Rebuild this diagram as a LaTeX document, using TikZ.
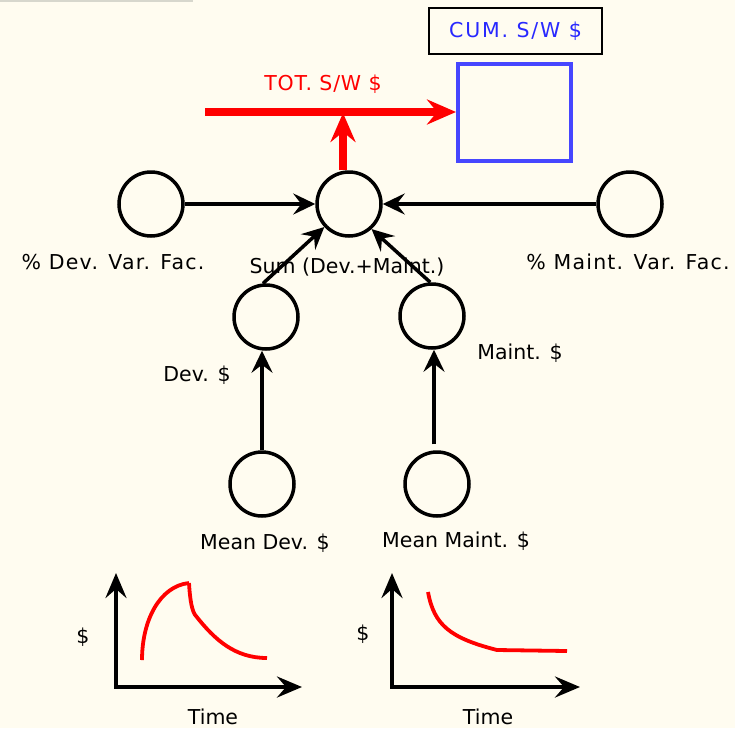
\documentclass[tikz,border=0pt]{standalone}
\usepackage{fontspec}
\setmainfont{DejaVu Sans}
\usetikzlibrary{arrows.meta}
\definecolor{bg}{RGB}{255,252,240}
\definecolor{myblue}{RGB}{70,70,255}
\definecolor{txtblue}{RGB}{40,40,255}
\definecolor{myred}{RGB}{255,0,0}
\definecolor{strip}{RGB}{215,215,205}
\begin{document}
\begin{tikzpicture}[x=1pt,y=-1pt,
  var/.style={circle,draw=black,line width=3.5pt,minimum size=64pt,inner sep=0pt},
  lbl/.style={font=\fontsize{20.5}{24}\selectfont,inner sep=0pt,anchor=base},
  link/.style={line width=3.5pt,-{Stealth[length=22pt,width=21pt,inset=8pt]}},
  flow/.style={draw=myred,line width=8pt,-{Stealth[length=29pt,width=25pt,inset=10pt]}},
  axis/.style={line width=4.5pt,line join=miter,{Stealth[length=25pt,width=21pt,inset=9pt]}-{Stealth[length=25pt,width=21pt,inset=9pt]}},
  curve/.style={draw=myred,line width=3.8pt,line join=round}
]
\fill[bg] (0,0) rectangle (735,728);
\useasboundingbox (0,0) rectangle (735,728);
\fill[strip] (0,0) rectangle (193,2);

% stock and its title box
\node[draw=black,line width=2.2pt,minimum width=173pt,minimum height=46pt,inner sep=0pt,
      text=txtblue,font=\fontsize{20.5}{24}\selectfont\addfontfeature{LetterSpace=9}] (cumlbl) at (515.5,31) {CUM. S/W \$};
\node[draw=myblue,line width=4pt,minimum width=113pt,minimum height=97pt,inner sep=0pt] (cum) at (514.5,112.5) {};

% variables
\node[var] (sum) at (349,204) {};
\node[var] (dv) at (151,204) {};
\node[var] (mv) at (630,204) {};
\node[var] (dev) at (266,317) {};
\node[var] (mnt) at (432,316) {};
\node[var] (md) at (262,484) {};
\node[var] (mm) at (437,484) {};

% labels
\node[lbl,text=myred] (totl) at (323,90) {\addfontfeature{LetterSpace=4}TOT. S/W \$};
\node[lbl] (dvl) at (113,269) {\addfontfeature{LetterSpace=6}\% Dev. Var. Fac.};
\node[lbl] (suml) at (347,273) {Sum (Dev.+Maint.)};
\node[lbl] (mvl) at (628,269) {\addfontfeature{LetterSpace=6}\% Maint. Var. Fac.};
\node[lbl] (devl) at (197,381) {Dev. \$};
\node[lbl] (mntl) at (520,359) {Maint. \$};
\node[lbl] (mdl) at (265,549) {Mean Dev. \$};
\node[lbl] (mml) at (456,547) {Mean Maint. \$};

% red flow
\coordinate (rstart) at (205,112);
\coordinate (rjoin) at (343,113);
\draw[flow] ([xshift=-6pt]sum.north) -- (rjoin);
\draw[flow] (rstart) -- (rstart -| cum.west);

% black links
\draw[link] (dv) -- (sum);
\draw[link] (mv) -- (sum);
\draw[link] (dev.95) -- (sum.223);
\draw[link] (mnt.93) -- (sum.312);
\draw[link] (md) -- (md |- dev.south);
\draw[link] ([xshift=-3pt,yshift=6pt]mm.north) -- ([xshift=-3pt]mm.north |- mnt.south);

% left graph
\draw[axis] (116,573) -- (116,687) -- (302,687);
\node[lbl] (gl1) at (83,643) {\$};
\node[lbl] (gl2) at (213,724) {Time};
\draw[curve] (142,660) .. controls (142,620) and (160,586) .. (189,583);
\draw[curve] (189,583) .. controls (190,600) and (192,612) .. (196,616) .. controls (215,640) and (235,658) .. (267,658);

% right graph
\draw[axis] (392,573) -- (392,687) -- (580,687);
\node[lbl] (gr1) at (363,640) {\$};
\node[lbl] (gr2) at (488,724) {Time};
\draw[curve] (428,592) .. controls (434,625) and (450,638) .. (497,650) -- (567,651);
\end{tikzpicture}
\end{document}
